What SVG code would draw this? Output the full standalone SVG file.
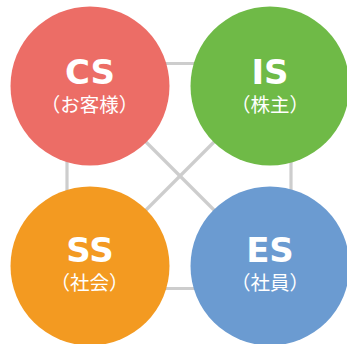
<svg xmlns="http://www.w3.org/2000/svg" width="347" height="344" viewBox="0 0 347 344">
  <style>
    .conn { fill: none; stroke: #cdcdcd; stroke-width: 3.2; }
    .head { font-family: "DejaVu Sans", "Open Sans", "Noto Sans CJK JP", sans-serif; font-weight: 700; font-size: 34px; fill: #ffffff; text-anchor: middle; }
    .sub { font-family: "Noto Sans CJK JP", "Noto Sans", sans-serif; font-weight: 400; font-size: 19.5px; fill: #ffffff; text-anchor: middle; }
  </style>
  <rect width="347" height="344" fill="#ffffff"/>
  <g id="connectors">
    <rect class="conn" x="67" y="63.5" width="224" height="225" rx="30"/>
    <line class="conn" x1="100" y1="96" x2="260" y2="256"/>
    <line class="conn" x1="260" y1="96" x2="100" y2="256"/>
  </g>
  <g id="cs">
    <circle cx="90" cy="86" r="79.5" fill="#ec6d66"/>
    <text class="head" x="90" y="83.5">CS</text>
    <text class="sub" x="89.5" y="111.5">（お客様）</text>
  </g>
  <g id="is">
    <circle cx="270" cy="86" r="79.5" fill="#6fba47"/>
    <text class="head" x="270" y="83.5">IS</text>
    <text class="sub" x="270" y="111.5">（株主）</text>
  </g>
  <g id="ss">
    <circle cx="90" cy="266" r="79.5" fill="#f39a21"/>
    <text class="head" x="90" y="261.5">SS</text>
    <text class="sub" x="89.5" y="289.5">（社会）</text>
  </g>
  <g id="es">
    <circle cx="270" cy="266" r="79.5" fill="#6b9bd1"/>
    <text class="head" x="270" y="261.5">ES</text>
    <text class="sub" x="270" y="289.5">（社員）</text>
  </g>
</svg>
